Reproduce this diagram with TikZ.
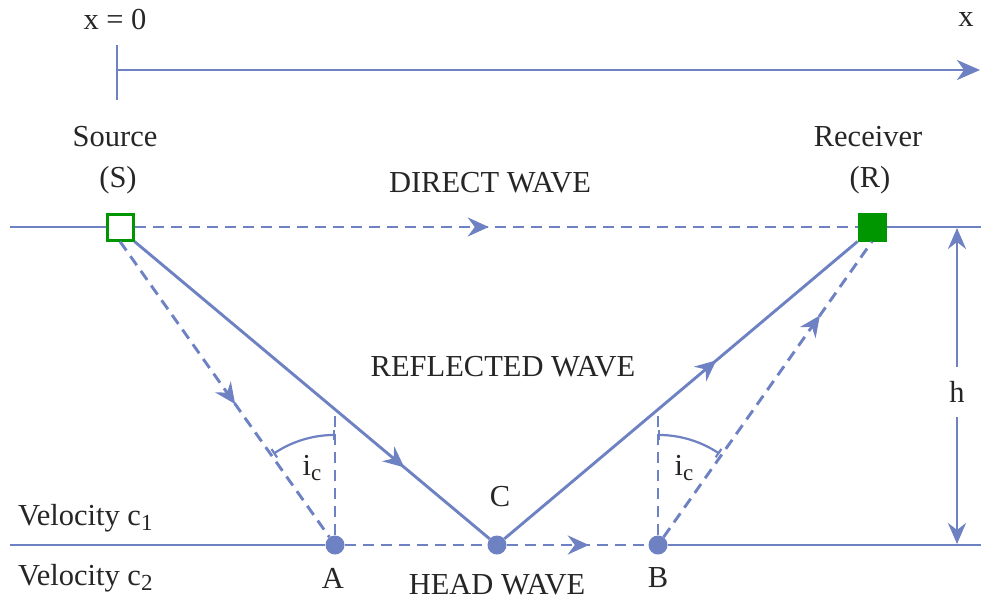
\documentclass[tikz,border=0pt]{standalone}
\usepackage{fontspec}
\setmainfont{Liberation Serif}
\usetikzlibrary{arrows.meta,decorations.markings,angles,calc}
\definecolor{wblue}{RGB}{110,129,194}
\definecolor{wgreen}{RGB}{0,150,0}
\newcommand{\mysub}[1]{\raisebox{-0.4ex}{\fontsize{23}{24}\selectfont #1}}
\tikzset{
  txt/.style={font=\fontsize{30.5}{34}\selectfont, text=black!85, inner sep=0pt},
  wline/.style={draw=wblue, line width=2.9pt},
  wdash/.style={wline, dash pattern=on 11pt off 7pt},
  midarrow/.style={postaction={decorate}, decoration={markings, mark=at position #1 with {\arrow[wblue,solid]{Stealth[length=21pt,width=19pt,inset=7pt]}}}},
  dot/.style={circle, fill=wblue, minimum size=19pt, inner sep=0pt},
  sqr/.style={rectangle, draw=wgreen, line width=3pt, minimum size=26pt, inner sep=0pt},
  angarc/.style={draw=wblue, line width=2.2pt, angle radius=110pt, {Bar[width=10pt,line width=2.2pt]}-{Bar[width=10pt,line width=2.2pt]}}
}
\begin{document}
\begin{tikzpicture}[x=1pt,y=-1pt]
\useasboundingbox[fill=white] (0,0) rectangle (981,602);
% top axis
\coordinate (t1) at (117,45);
\coordinate (t2) at (117,100);
\coordinate (a0) at (117,70);
\coordinate (a1) at (980,70);
\draw[wline] (t1) -- (t2);
\draw[wline, -{Stealth[length=23pt,width=20pt,inset=7pt]}] (a0) -- (a1);
\node[txt] (x0) at (115,20) {x = 0};
\node[txt] (xl) at (966,20) {x};
% surface
\coordinate (L1) at (10,227);
\coordinate (R1) at (981,227);
\node[sqr, fill=white] (S) at (120,227) {};
\node[sqr, fill=wgreen] (R) at (872,227) {};
\draw[wline] (L1) -- (S.west);
\draw[wline] (R.east) -- (R1);
\draw[wdash, midarrow=0.49] (S.east) -- (R.west);
\node[txt] (src) at (115,137) {Source};
\node[txt] (srcs) at (118,180) {(S)};
\node[txt] (rcv) at (868,137) {Receiver};
\node[txt] (rcvr) at (870,180) {(R)};
\node[txt] (dw) at (490,183) {DIRECT WAVE};
% bottom interface
\coordinate (L2) at (10,545);
\coordinate (R2) at (981,545);
\node[dot] (A) at (335,545) {};
\node[dot] (C) at (497,545) {};
\node[dot] (B) at (658,545) {};
\draw[wline] (L2) -- (A);
\draw[wline] (B) -- (R2);
\draw[wdash] (A) -- (C);
\draw[wdash, midarrow=0.58] (C) -- (B);
% reflected wave
\draw[wline, midarrow=0.76] (S.south east) -- (C);
\draw[wline, midarrow=0.60] (C) -- (R.south west);
% head wave rays
\draw[wdash, midarrow=0.55] (S.south) -- (A);
\draw[wdash, midarrow=0.75] (B) -- (R.south);
% normals
\coordinate (At) at (335,408);
\coordinate (Bt) at (658,408);
\draw[wdash] (A) -- (At);
\draw[wdash] (B) -- (Bt);
% angles
\coordinate (Sc) at (120,227);
\coordinate (Rc) at (872,227);
\pic[angarc] {angle = At--A--Sc};
\pic[angarc] {angle = Rc--B--Bt};
\node[txt] (ia) at (312,468) {i\mysub{c}};
\node[txt] (ib) at (684,468) {i\mysub{c}};
% labels
\node[txt] (rw) at (503,367) {REFLECTED WAVE};
\node[txt] (hw) at (497,585) {HEAD WAVE};
\node[txt] (lc) at (500,497) {C};
\node[txt] (la) at (333,578) {A};
\node[txt] (lb) at (658,578) {B};
\node[txt, anchor=west] (v1) at (18,518) {Velocity c\mysub{1}};
\node[txt, anchor=west] (v2) at (18,578) {Velocity c\mysub{2}};
% thickness h
\coordinate (h1) at (957,228);
\coordinate (h2) at (957,544);
\draw[wline, {Stealth[length=21pt,width=18pt,inset=7pt]}-{Stealth[length=21pt,width=18pt,inset=7pt]}] (h1) -- (h2);
\node[txt, fill=white, minimum height=50pt, minimum width=14pt] (hl) at (957,392) {h};
\end{tikzpicture}
\end{document}
